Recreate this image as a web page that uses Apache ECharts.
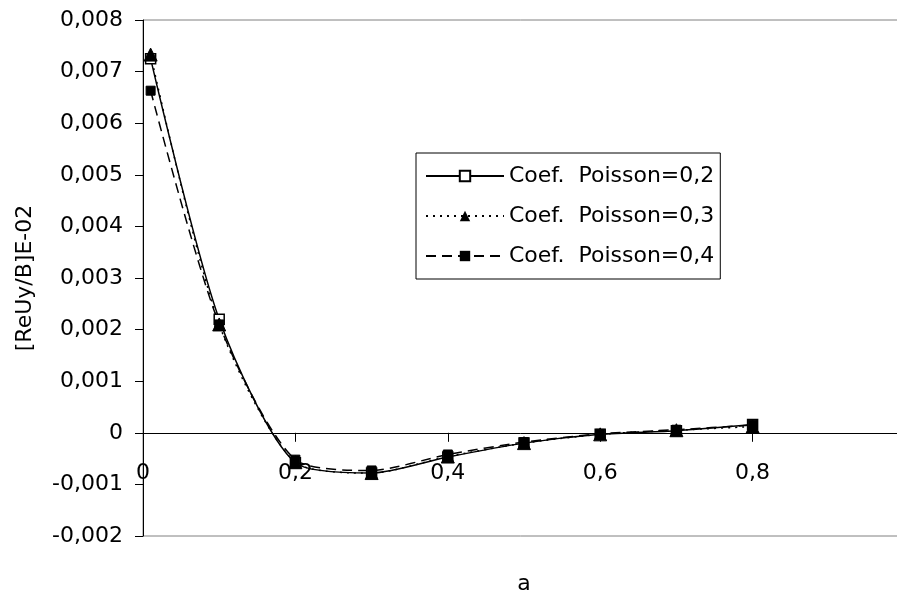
<!DOCTYPE html>
<html>
<head>
<meta charset="utf-8">
<script src="https://cdn.jsdelivr.net/npm/echarts@6/dist/echarts.min.js"></script>
<style>
  html, body { margin: 0; padding: 0; background: #fff; }
  #chart { width: 897px; height: 601px; }
</style>
</head>
<body>
<div id="chart"></div>
<script>
// Parameter a (x positions of the computed points)
const aValues = [0.01, 0.1, 0.2, 0.3, 0.4, 0.5, 0.6, 0.7, 0.8];

// [ReUy/B]E-02 for each Poisson coefficient
const poisson02 = [0.00725, 0.0022, -0.00058, -0.00078, -0.00047, -0.0002, -0.00003, 0.00004, 0.00016];
const poisson03 = [0.00733, 0.0021, -0.00057, -0.00078, -0.00046, -0.0002, -0.00003, 0.00005, 0.00012];
const poisson04 = [0.00663, 0.0021, -0.00052, -0.00073, -0.00042, -0.00018, -0.00002, 0.00006, 0.00015];

const seriesNames = ['Coef.  Poisson=0,2', 'Coef.  Poisson=0,3', 'Coef.  Poisson=0,4'];

const Y_MIN = -0.002, Y_MAX = 0.008;
const GRID_TOP = 20, GRID_HEIGHT = 516;
// the horizontal axis crosses the value axis at y = 0
const zeroOffset = -GRID_HEIGHT * (0 - Y_MIN) / (Y_MAX - Y_MIN);

function pairs(ys) {
  return aValues.map((x, i) => [x, ys[i]]);
}

function fmtY(v) {
  const r = Math.round(v * 1000);
  if (r === 0) return '0';
  return (r / 1000).toFixed(3).replace('.', ',');
}
function fmtX(v) {
  const r = Math.round(v * 10);
  if (r === 0) return '0';
  if (r >= 10) return '';
  return (r / 10).toFixed(1).replace('.', ',');
}

const FONT = 'DejaVu Sans';
const chart = echarts.init(document.getElementById('chart'), null, { renderer: 'canvas' });

chart.setOption({
  animation: false,
  backgroundColor: '#fff',
  textStyle: { fontFamily: FONT, color: '#000' },
  grid: {
    left: 143, top: GRID_TOP, width: 762, height: GRID_HEIGHT,
    outerBoundsMode: 'none',
    containLabel: false,
    show: true, borderColor: '#808080', borderWidth: 1, backgroundColor: 'transparent'
  },
  legend: {
    orient: 'vertical',
    left: 416, top: 153,
    padding: [12, 6, 12, 9],
    itemWidth: 78, itemHeight: 13, itemGap: 18,
    borderColor: '#000', borderWidth: 1,
    backgroundColor: '#fff',
    textStyle: { fontFamily: FONT, fontSize: 22, color: '#000' },
    data: seriesNames
  },
  xAxis: {
    type: 'value',
    position: 'bottom',
    offset: zeroOffset,
    min: 0, max: 1, interval: 0.2,
    name: 'a',
    nameLocation: 'middle',
    nameGap: 140,
    nameTextStyle: { fontFamily: FONT, fontSize: 22, color: '#000' },
    axisLine: { onZero: false, lineStyle: { color: '#000', width: 1 } },
    axisTick: { show: true, inside: false, length: 9, lineStyle: { color: '#000' } },
    axisLabel: { fontFamily: FONT, fontSize: 22, color: '#000', margin: 29, formatter: fmtX },
    splitLine: { show: false }
  },
  yAxis: {
    type: 'value',
    min: Y_MIN, max: Y_MAX, interval: 0.001,
    name: '[ReUy/B]E-02',
    nameLocation: 'middle',
    nameGap: 107,
    nameRotate: 90,
    nameTextStyle: { fontFamily: FONT, fontSize: 22, color: '#000' },
    axisLine: { show: true, onZero: false, lineStyle: { color: '#000', width: 1 } },
    axisTick: { show: true, inside: false, length: 8, lineStyle: { color: '#000' } },
    axisLabel: { fontFamily: FONT, fontSize: 22, color: '#000', margin: 20, formatter: fmtY },
    splitLine: { show: false }
  },
  series: [
    {
      name: seriesNames[0], type: 'line', smooth: 0.25,
      data: pairs(poisson02),
      symbol: 'rect', symbolSize: 10,
      itemStyle: { color: '#fff', borderColor: '#000', borderWidth: 1.5 },
      lineStyle: { color: '#000', width: 1.5, type: 'solid' }
    },
    {
      name: seriesNames[1], type: 'line', smooth: 0.25,
      data: pairs(poisson03),
      symbol: 'triangle', symbolSize: 13,
      itemStyle: { color: '#000', borderColor: '#000' },
      lineStyle: { color: '#000', width: 1.5, type: [2, 5] }
    },
    {
      name: seriesNames[2], type: 'line', smooth: 0.25,
      data: pairs(poisson04),
      symbol: 'rect', symbolSize: 9,
      itemStyle: { color: '#000', borderColor: '#000' },
      lineStyle: { color: '#000', width: 1.5, type: [10, 6] }
    }
  ]
});
</script>
</body>
</html>
